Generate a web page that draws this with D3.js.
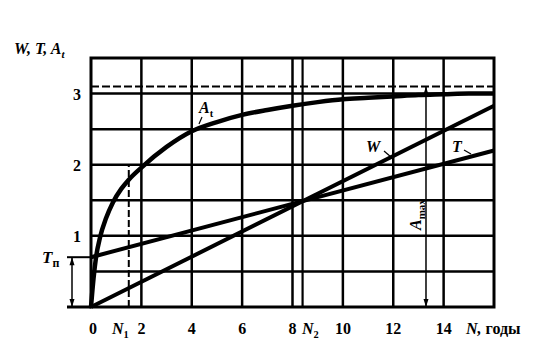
<!DOCTYPE html>
<html><head><meta charset="utf-8">
<script src="https://cdn.jsdelivr.net/npm/d3@7"></script>
<style>body{margin:0;background:#fff}svg{display:block}text{font-family:"Liberation Serif","Times New Roman",serif;font-weight:bold;fill:#000}</style>
</head><body>
<svg id="c" width="537" height="354"></svg>
<script>
// ---- data ----
const xTicks = [0, 2, 4, 6, 8, 10, 12, 14];
const xGrid = [2, 4, 6, 8, 10, 12, 14];
const yTicks = [1, 2, 3];
const yGrid = [0.5, 1, 1.5, 2, 2.5, 3];
const Tp = 0.7;          // T_п
const N1 = 1.5;
const N2 = 8.4;
const Amax = 3.1;
const NAmax = 13.3;
const wN = [0, 16], wV = [0, 2.83];
const tN = [0, 16], tV = [0.7, 2.2];
const aN = [0, 0.1, 0.2, 0.36, 0.6, 0.87, 1.2, 1.5, 2, 3, 4, 5, 6, 7, 8, 9, 10, 11, 12, 13, 14, 15, 16];
const aV = [0, 0.4, 0.7, 0.98, 1.25, 1.47, 1.66, 1.79, 1.96, 2.25, 2.47, 2.6, 2.7, 2.77, 2.83, 2.88, 2.92, 2.94, 2.96, 2.98, 2.99, 3.0, 3.0];

const svg = d3.select("#c");
const x = d3.scaleLinear().domain([0, 16]).range([91, 494]);
const y = d3.scaleLinear().domain([0, 3.5]).range([307, 58]);

// grid
svg.selectAll(".gx").data(xGrid).enter().append("line")
  .attr("x1", d => x(d)).attr("x2", d => x(d)).attr("y1", y(0)).attr("y2", y(3.5))
  .attr("stroke", "#000").attr("stroke-width", 2.5);
svg.selectAll(".gy").data(yGrid).enter().append("line")
  .attr("x1", x(0)).attr("x2", x(16)).attr("y1", d => y(d)).attr("y2", d => y(d))
  .attr("stroke", "#000").attr("stroke-width", 2.5);
// N2 line
svg.append("line").attr("x1", x(N2)).attr("x2", x(N2)).attr("y1", y(0)).attr("y2", y(3.5))
  .attr("stroke", "#000").attr("stroke-width", 2.2);
// N1 dashed
svg.append("line").attr("x1", x(N1)).attr("x2", x(N1)).attr("y1", y(0)).attr("y2", y(2))
  .attr("stroke", "#000").attr("stroke-width", 2).attr("stroke-dasharray", "7,3");
// Amax dashed
svg.append("line").attr("x1", x(0)).attr("x2", x(16)).attr("y1", y(Amax)).attr("y2", y(Amax))
  .attr("stroke", "#000").attr("stroke-width", 2).attr("stroke-dasharray", "8,3");
// frame
svg.append("rect").attr("x", x(0)).attr("y", y(3.5)).attr("width", x(16) - x(0)).attr("height", y(0) - y(3.5))
  .attr("fill", "none").attr("stroke", "#000").attr("stroke-width", 3);
// bottom axis extension and Tp tick
svg.append("line").attr("x1", 67).attr("x2", x(0)).attr("y1", y(0)).attr("y2", y(0)).attr("stroke", "#000").attr("stroke-width", 3);
svg.append("line").attr("x1", 67).attr("x2", x(0)).attr("y1", y(Tp)).attr("y2", y(Tp)).attr("stroke", "#000").attr("stroke-width", 2);

// arrows
function dblArrow(xx, y1, y2) {
  svg.append("line").attr("x1", xx).attr("x2", xx).attr("y1", y1).attr("y2", y2).attr("stroke", "#000").attr("stroke-width", 1.5);
  svg.append("path").attr("d", `M${xx-2.5},${y1+8}L${xx},${y1}L${xx+2.5},${y1+8}Z`).attr("fill", "#000");
  svg.append("path").attr("d", `M${xx-2.5},${y2-8}L${xx},${y2}L${xx+2.5},${y2-8}Z`).attr("fill", "#000");
}
dblArrow(72, y(Tp), y(0));
dblArrow(x(NAmax), y(Amax), y(0));

// lines
const line = d3.line().x(d => x(d[0])).y(d => y(d[1]));
svg.append("path").attr("d", line(d3.zip(wN, wV))).attr("fill", "none").attr("stroke", "#000").attr("stroke-width", 4);
svg.append("path").attr("d", line(d3.zip(tN, tV))).attr("fill", "none").attr("stroke", "#000").attr("stroke-width", 4);
svg.append("path").attr("d", line.curve(d3.curveMonotoneX)(d3.zip(aN, aV))).attr("fill", "none").attr("stroke", "#000").attr("stroke-width", 4.5);

// tick labels
svg.selectAll(".xt").data(xTicks).enter().append("text")
  .attr("x", d => x(d) + (d === 0 ? 2 : 0)).attr("y", 334).attr("text-anchor", "middle").attr("font-size", 16).text(d => d);
svg.selectAll(".yt").data(yTicks).enter().append("text")
  .attr("x", 81).attr("y", d => y(d) + 6).attr("text-anchor", "end").attr("font-size", 16).text(d => d);

function sub(tx, ty, main, s, size, anchor) {
  const t = svg.append("text").attr("x", tx).attr("y", ty).attr("font-size", size).attr("font-style", "italic");
  if (anchor) t.attr("text-anchor", anchor);
  t.append("tspan").text(main);
  t.append("tspan").attr("dy", 4).attr("font-size", size * 0.65).attr("font-style", "normal").text(s);
  return t;
}
// N labels
sub(112, 334, "N", "1", 16);
sub(302, 334, "N", "2", 16);
svg.append("text").attr("x", 466).attr("y", 334).attr("font-size", 16).attr("font-style", "italic").text("N,")
  .append("tspan").attr("font-style", "normal").attr("dx", 4).text("годы");
// axis title
const at = svg.append("text").attr("x", 14).attr("y", 54).attr("font-size", 16).attr("font-style", "italic");
at.append("tspan").text("W, T, A");
at.append("tspan").attr("dy", 4).attr("font-size", 11).text("t");
// Tp
const tp = svg.append("text").attr("x", 42).attr("y", y(Tp) + 6).attr("font-size", 17).attr("font-style", "italic");
tp.append("tspan").text("T");
tp.append("tspan").attr("dy", 4).attr("font-size", 12).attr("font-style", "normal").text("п");

// curve labels
sub(199, 113, "A", "t", 16);
svg.append("line").attr("x1", 202).attr("x2", 199).attr("y1", 117).attr("y2", 124).attr("stroke", "#000").attr("stroke-width", 1.2);
svg.append("text").attr("x", 366).attr("y", 152).attr("font-size", 16).attr("font-style", "italic").text("W");
svg.append("line").attr("x1", 384).attr("x2", 391).attr("y1", 151).attr("y2", 157).attr("stroke", "#000").attr("stroke-width", 1.2);
svg.append("text").attr("x", 452).attr("y", 152).attr("font-size", 16).attr("font-style", "italic").text("T");
svg.append("line").attr("x1", 464).attr("x2", 471).attr("y1", 150).attr("y2", 154).attr("stroke", "#000").attr("stroke-width", 1.2);
// Amax rotated
const am = svg.append("text").attr("transform", `translate(${x(NAmax) - 5},230) rotate(-90)`).attr("font-size", 16).attr("font-style", "italic");
am.append("tspan").text("A");
am.append("tspan").attr("dy", 4).attr("font-size", 11).attr("font-style", "normal").text("max");
</script>
</body></html>
